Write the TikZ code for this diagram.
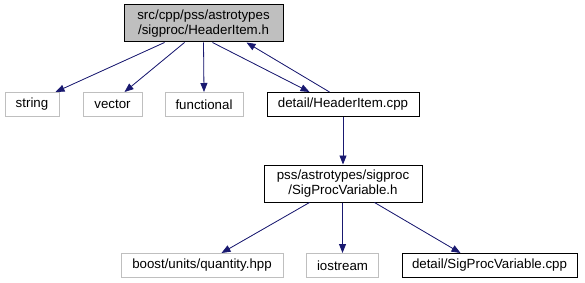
\documentclass[tikz,border=0pt]{standalone}
\usepackage{fontspec}
\setmainfont{Liberation Sans}
\usetikzlibrary{arrows.meta}
\definecolor{edgeblue}{HTML}{191970}
\definecolor{sysgray}{HTML}{BFBFBF}
\tikzset{
  filebox/.style={draw=black, line width=1pt, fill=white, inner sep=0pt, align=center, font=\fontsize{13.3}{14.5}\selectfont},
  sysbox/.style={draw=sysgray, line width=1pt, fill=white, inner sep=0pt, align=center, font=\fontsize{13.3}{14.5}\selectfont},
  rootbox/.style={filebox, fill=sysgray},
  dep/.style={draw=edgeblue, line width=0.8pt, -{Triangle[length=9pt,width=7pt]}, fill=edgeblue}
}
\begin{document}
\begin{tikzpicture}[x=1pt,y=-1pt]
\useasboundingbox (0,0) rectangle (585,283);
% include graph nodes
\node[rootbox, minimum width=159pt, minimum height=37pt] (root) at (203.5,23.5) {src/cpp/pss/astrotypes\\/sigproc/HeaderItem.h};
\node[sysbox, minimum width=54pt, minimum height=24pt] (string) at (32,104.5) {string};
\node[sysbox, minimum width=59pt, minimum height=24pt] (vector) at (112.5,104.5) {vector};
\node[sysbox, minimum width=78pt, minimum height=24pt] (functional) at (204,104.5) {functional};
\node[filebox, minimum width=152pt, minimum height=24pt] (hcpp) at (343,104.5) {detail/HeaderItem.cpp};
\node[filebox, minimum width=158pt, minimum height=37pt] (spv) at (343,183.5) {pss/astrotypes/sigproc\\/SigProcVariable.h};
\node[sysbox, minimum width=162pt, minimum height=24pt] (boost) at (202,265.5) {boost/units/quantity.hpp};
\node[sysbox, minimum width=72pt, minimum height=24pt] (iostream) at (342.5,265.5) {iostream};
\node[filebox, minimum width=175pt, minimum height=24pt] (spvcpp) at (489.5,265.5) {detail/SigProcVariable.cpp};
% dependency edges
\draw[dep] ([xshift=41pt]root.south west) -- ([xshift=51pt]string.north west);
\draw[dep] ([xshift=61pt]root.south west) -- ([xshift=42pt]vector.north west);
\draw[dep] ([xshift=80pt]root.south west) -- (functional.north);
\draw[dep] ([xshift=89pt]root.south west) -- ([xshift=43pt]hcpp.north west);
\draw[dep] ([xshift=63pt]hcpp.north west) -- ([xshift=123pt]root.south west);
\draw[dep] (hcpp.south) -- (spv.north);
\draw[dep] ([xshift=46pt]spv.south west) -- ([xshift=101pt]boost.north west);
\draw[dep] ([xshift=79pt]spv.south west) -- (iostream.north);
\draw[dep] ([xshift=111pt]spv.south west) -- ([xshift=59pt]spvcpp.north west);
\end{tikzpicture}
\end{document}
